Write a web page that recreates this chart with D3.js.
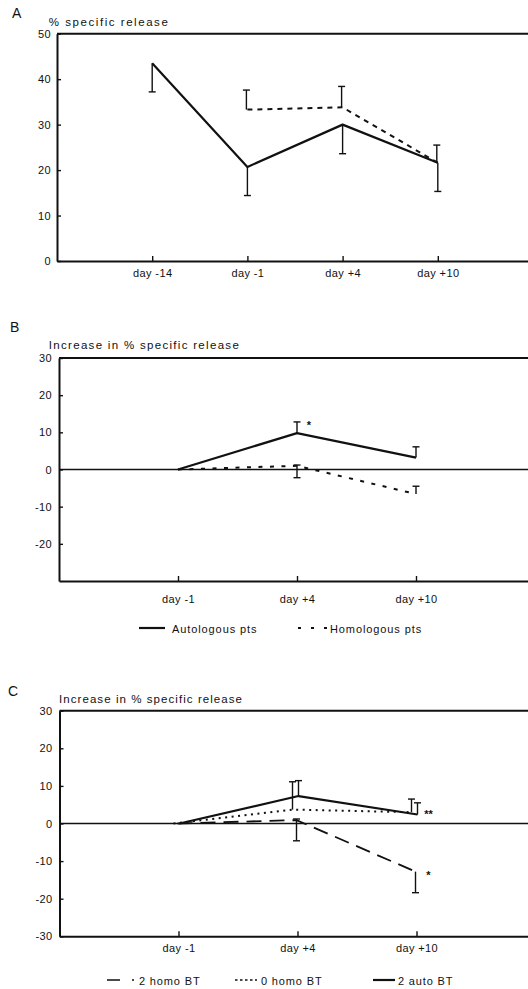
<!DOCTYPE html>
<html><head><meta charset="utf-8">
<script src="https://cdn.jsdelivr.net/npm/d3@7"></script>
<style>body{margin:0;background:#fff}svg{display:block}</style>
</head><body>
<svg id="chart" width="528" height="989"></svg>
<script>
// ---------- DATA ----------
// Panel A
const catsA = ["day -14", "day -1", "day +4", "day +10"];
const yTicksA = [0, 10, 20, 30, 40, 50];
const solidA = [43.5, 20.7, 30.0, 21.6];
const solidAErrLow = [37.2, 14.4, 23.6, 15.3];
const dashedA = [null, 33.3, 33.8, 21.6];
const dashedAErrHigh = [null, 37.6, 38.4, 25.5];

// Panel B
const catsB = ["day -1", "day +4", "day +10"];
const yTicksB = [30, 20, 10, 0, -10, -20];
const autoB = [0, 9.8, 3.2];
const autoBErrHigh = [null, 12.8, 6.1];
const homoB = [0, 1.0, -6.6];
const homoBErrLow = [null, -2.2, null];
const homoBErrHigh = [null, 1.2, -4.5];
const legendB = ["Autologous pts", "Homologous pts"];

// Panel C
const catsC = ["day -1", "day +4", "day +10"];
const yTicksC = [30, 20, 10, 0, -10, -20, -30];
const homo2C = [0, 0.9, -12.8];
const homo2CErrLow = [null, -4.6, -18.4];
const homo2CErrHigh = [null, 1.2, null];
const homo0C = [0, 3.7, 3.0];
const homo0CErrHigh = [null, 11.1, 6.5];
const auto2C = [0, 7.3, 2.4];
const auto2CErrHigh = [null, 11.4, 5.5];
const legendC = ["2 homo BT", "0 homo BT", "2 auto BT"];

// Significance marks
const starsB = [{ label: "*", cat: 1, value: 12.6 }];
const starsC = [{ label: "**", cat: 2, value: 3.3 }, { label: "*", cat: 2, value: -13.1 }];

const titleA = "% specific release";
const titleBC = "Increase in % specific release";

// ---------- DRAWING ----------
const FONT = "'Liberation Sans', Arial, Helvetica, sans-serif";
const svg = d3.select("#chart");

function panel(o) {
  const g = svg.append("g");
  const x = d3.scaleLinear().domain([-1, o.cats.length]).range(o.xRange);
  const y = d3.scaleLinear().domain(o.yDomain).range(o.yRange);
  const x0 = o.xRange[0];

  g.append("text").attr("x", o.letterX).attr("y", o.letterY).text(o.letter)
    .attr("font-family", FONT).attr("font-size", 14).attr("fill", "#111");
  g.append("text").attr("x", o.titleX).attr("y", o.titleY).text(o.title)
    .attr("font-family", FONT).attr("font-size", 11.5).attr("fill", "#111")
    .attr("textLength", o.titleW).attr("lengthAdjust", "spacing");

  g.append("line").attr("x1", x0).attr("x2", 528)
    .attr("y1", y.range()[1]).attr("y2", y.range()[1])
    .attr("stroke", "#111").attr("stroke-width", 2);

  if (o.zeroLine) {
    g.append("line").attr("x1", x0).attr("x2", 528)
      .attr("y1", y(0)).attr("y2", y(0))
      .attr("stroke", "#111").attr("stroke-width", 1.6);
  }

  const ya = g.append("g").attr("transform", `translate(${x0},0)`)
    .call(d3.axisLeft(y).tickValues(o.yTicks).tickSizeInner(-4).tickSizeOuter(0)
      .tickPadding(o.yPad).tickFormat(d => String(d)));
  ya.select(".domain").attr("stroke", "#111").attr("stroke-width", 2);
  ya.selectAll(".tick line").attr("stroke", "#111").attr("stroke-width", 1.4);
  ya.selectAll(".tick text").attr("font-family", FONT).attr("font-size", 11)
    .attr("letter-spacing", 0.4).attr("fill", "#111");

  const xa = g.append("g").attr("transform", `translate(0,${y.range()[0]})`)
    .call(d3.axisBottom(x).tickValues(d3.range(o.cats.length)).tickFormat(i => o.cats[i])
      .tickSizeInner(-5).tickSizeOuter(0).tickPadding(o.xPad));
  xa.select(".domain").attr("stroke", "#111").attr("stroke-width", 2);
  xa.selectAll(".tick line").attr("stroke", "#111").attr("stroke-width", 1.4);
  xa.selectAll(".tick text").attr("font-family", FONT).attr("font-size", 11)
    .attr("letter-spacing", 0.4).attr("fill", "#111");

  o.series.forEach(s => {
    const pts = s.values.map((v, i) => ({ i, v }));
    const line = d3.line().defined(d => d.v != null)
      .x(d => x(d.i) + (s.dx || 0)).y(d => y(d.v));
    g.append("path").datum(pts).attr("d", line).attr("fill", "none")
      .attr("stroke", "#111").attr("stroke-width", s.width)
      .attr("stroke-dasharray", s.dash || null).attr("stroke-linejoin", "round");

    pts.forEach(d => {
      if (d.v == null) return;
      const lo = s.errLow && s.errLow[d.i] != null ? s.errLow[d.i] : d.v;
      const hi = s.errHigh && s.errHigh[d.i] != null ? s.errHigh[d.i] : d.v;
      if (lo === d.v && hi === d.v) return;
      const cx = x(d.i) + (s.edx != null ? s.edx : (s.dx || 0));
      g.append("line").attr("x1", cx).attr("x2", cx).attr("y1", y(lo)).attr("y2", y(hi))
        .attr("stroke", "#111").attr("stroke-width", 1.4);
      [lo, hi].forEach(e => {
        if (e === d.v) return;
        g.append("line").attr("x1", cx - 3.5).attr("x2", cx + 3.5)
          .attr("y1", y(e)).attr("y2", y(e)).attr("stroke", "#111").attr("stroke-width", 1.4);
      });
    });
  });

  o.stars.forEach(st => {
    g.append("text").attr("x", x(st.cat) + 12).attr("y", y(st.value) + 6.5)
      .attr("text-anchor", "middle").text(st.label)
      .attr("font-family", FONT).attr("font-size", 11).attr("font-weight", "bold").attr("fill", "#111");
  });

  if (o.legend) {
    o.legend.items.forEach(it => {
      g.append("line").attr("x1", it.x1).attr("x2", it.x2)
        .attr("y1", o.legend.y).attr("y2", o.legend.y)
        .attr("stroke", "#111").attr("stroke-width", it.width)
        .attr("stroke-dasharray", it.dash || null);
      g.append("text").attr("x", it.tx).attr("y", o.legend.y + 4.5).text(it.label)
        .attr("font-family", FONT).attr("font-size", 11).attr("letter-spacing", o.legend.ls)
        .attr("fill", "#111");
    });
  }
}

panel({
  cats: catsA, yTicks: yTicksA, yDomain: [0, 50],
  xRange: [57, 533], yRange: [261, 33.7], yPad: 6, xPad: 8,
  letter: "A", letterX: 12, letterY: 18,
  title: titleA, titleX: 48.8, titleY: 25.5, titleW: 119,
  zeroLine: false,
  series: [
    { values: dashedA, errHigh: dashedAErrHigh, width: 2, dash: "5,5", edx: -1 },
    { values: solidA, errLow: solidAErrLow, width: 2.2 }
  ],
  stars: []
});

panel({
  cats: catsB, yTicks: yTicksB, yDomain: [-30, 30],
  xRange: [59, 535], yRange: [581, 358], yPad: 7, xPad: 14,
  letter: "B", letterX: 10, letterY: 332,
  title: titleBC, titleX: 48.8, titleY: 348.6, titleW: 190,
  zeroLine: true,
  series: [
    { values: homoB, errLow: homoBErrLow, errHigh: homoBErrHigh, width: 2, dash: "4,7.5" },
    { values: autoB, errHigh: autoBErrHigh, width: 2.2 }
  ],
  stars: starsB,
  legend: {
    y: 628, ls: 0.9,
    items: [
      { label: legendB[0], x1: 139, x2: 165, tx: 172, width: 2.2 },
      { label: legendB[1], x1: 298, x2: 327, tx: 330, width: 2, dash: "3,10" }
    ]
  }
});

panel({
  cats: catsC, yTicks: yTicksC, yDomain: [-30, 30],
  xRange: [59.5, 535.5], yRange: [936.3, 710.7], yPad: 7, xPad: 8,
  letter: "C", letterX: 8, letterY: 695.5,
  title: titleBC, titleX: 59, titleY: 703, titleW: 183,
  zeroLine: true,
  series: [
    { values: homo2C, errLow: homo2CErrLow, errHigh: homo2CErrHigh, width: 1.8, dash: "15,8", dx: -1 },
    { values: homo0C, errHigh: homo0CErrHigh, width: 2, dash: "2,4.5", dx: -5 },
    { values: auto2C, errHigh: auto2CErrHigh, width: 2.2, dx: 1 }
  ],
  stars: starsC,
  legend: {
    y: 980, ls: 0.85,
    items: [
      { label: legendC[0], x1: 107, x2: 134, tx: 139, width: 1.6, dash: "13,12" },
      { label: legendC[1], x1: 235, x2: 257, tx: 261, width: 1.6, dash: "2.5,2.5" },
      { label: legendC[2], x1: 373, x2: 395, tx: 398, width: 2.2 }
    ]
  }
});
</script>
</body></html>
